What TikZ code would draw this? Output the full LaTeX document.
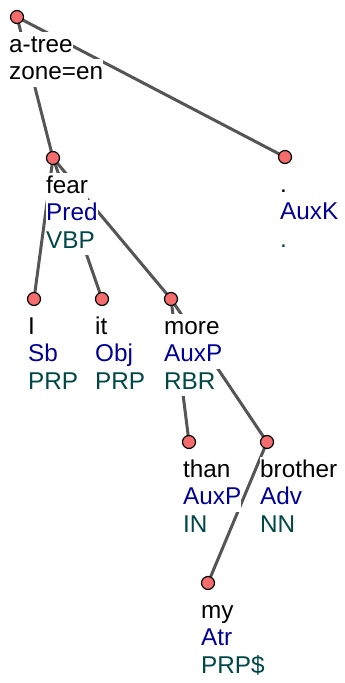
\documentclass[tikz,border=0pt]{standalone}
\usepackage{fontspec}
\setmainfont{Liberation Sans}
\usetikzlibrary{positioning,backgrounds}

\definecolor{nodered}{RGB}{245,108,108}
\definecolor{afunblue}{RGB}{0,0,150}
\definecolor{tagteal}{RGB}{0,72,72}
\definecolor{edgegray}{RGB}{85,85,85}

\begin{document}
\begin{tikzpicture}[
    x=1pt, y=-1pt,
    dot/.style={circle, draw, line width=1.2pt, fill=nodered, minimum size=13pt, inner sep=0pt},
    treeedge/.style={draw=edgegray, line width=3pt},
    word/.style={anchor=base west, fill=white, inner xsep=0pt, inner ysep=0.75pt,
        text height=19.5pt, text depth=6.5pt, font=\fontsize{24.3}{27.5}\selectfont},
    afun/.style={word, text=afunblue},
    tag/.style={word, text=tagteal}
]
\useasboundingbox (0,0) rectangle (345,683);

% tree nodes
\node[dot] (root) at (17,17) {};
\node[dot] (fear) at (53,158) {};
\node[dot] (dot) at (285,157) {};
\node[dot] (i) at (34,299) {};
\node[dot] (it) at (102,299) {};
\node[dot] (more) at (171,299) {};
\node[dot] (than) at (189,442) {};
\node[dot] (brother) at (267,442) {};
\node[dot] (my) at (208,583) {};

% labels
\node[word] (root-w) at ([shift={(-8,35)}]root.center) {a-tree};
\node[word] (root-z) at ([shift={(0,27.5)}]root-w.base west) {zone=en};

\node[word] (fear-w) at ([shift={(-7,35)}]fear.center) {fear};
\node[afun] (fear-a) at ([shift={(0,27.5)}]fear-w.base west) {Pred};
\node[tag] (fear-t) at ([shift={(0,27.5)}]fear-a.base west) {VBP};

\node[word] (dot-w) at ([shift={(-5,35)}]dot.center) {.};
\node[afun] (dot-a) at ([shift={(0,27.5)}]dot-w.base west) {AuxK};
\node[tag] (dot-t) at ([shift={(0,27.5)}]dot-a.base west) {.};

\node[word] (i-w) at ([shift={(-6,35)}]i.center) {I};
\node[afun] (i-a) at ([shift={(0,27.5)}]i-w.base west) {Sb};
\node[tag] (i-t) at ([shift={(0,27.5)}]i-a.base west) {PRP};

\node[word] (it-w) at ([shift={(-7,35)}]it.center) {it};
\node[afun] (it-a) at ([shift={(0,27.5)}]it-w.base west) {Obj};
\node[tag] (it-t) at ([shift={(0,27.5)}]it-a.base west) {PRP};

\node[word] (more-w) at ([shift={(-7,35)}]more.center) {more};
\node[afun] (more-a) at ([shift={(0,27.5)}]more-w.base west) {AuxP};
\node[tag] (more-t) at ([shift={(0,27.5)}]more-a.base west) {RBR};

\node[word] (than-w) at ([shift={(-6,35)}]than.center) {than};
\node[afun] (than-a) at ([shift={(0,27.5)}]than-w.base west) {AuxP};
\node[tag] (than-t) at ([shift={(0,27.5)}]than-a.base west) {IN};

\node[word] (brother-w) at ([shift={(-7,35)}]brother.center) {brother};
\node[afun] (brother-a) at ([shift={(0,27.5)}]brother-w.base west) {Adv};
\node[tag] (brother-t) at ([shift={(0,27.5)}]brother-a.base west) {NN};

\node[word] (my-w) at ([shift={(-7,35)}]my.center) {my};
\node[afun] (my-a) at ([shift={(0,27.5)}]my-w.base west) {Atr};
\node[tag] (my-t) at ([shift={(0,27.5)}]my-a.base west) {PRP\$};

% edges, behind labels
\begin{scope}[on background layer]
\draw[treeedge] (root.center) -- (fear.center);
\draw[treeedge] (root.center) -- (dot.center);
\draw[treeedge] (fear.center) -- (i.center);
\draw[treeedge] (fear.center) -- (it.center);
\draw[treeedge] (fear.center) -- (more.center);
\draw[treeedge] (more.center) -- (than.center);
\draw[treeedge] (more.center) -- (brother.center);
\draw[treeedge] (brother.center) -- (my.center);
\end{scope}
\end{tikzpicture}
\end{document}
